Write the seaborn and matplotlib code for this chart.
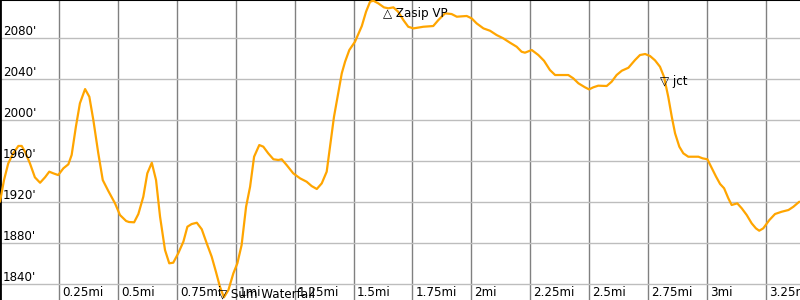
import matplotlib
matplotlib.use("Agg")
import matplotlib.pyplot as plt
import matplotlib.transforms as mtrans
import seaborn as sns
import pandas as pd

# distance along trail (miles)
distance_mi = [
    0.000, 0.017, 0.035, 0.056, 0.078, 0.092, 0.106, 0.127, 0.148, 0.170,
    0.191, 0.209, 0.226, 0.247, 0.269, 0.290, 0.304, 0.322, 0.339, 0.361,
    0.379, 0.396, 0.417, 0.436, 0.459, 0.488, 0.509, 0.535, 0.547, 0.569,
    0.587, 0.608, 0.625, 0.644, 0.662, 0.679, 0.700, 0.718, 0.735, 0.756,
    0.778, 0.795, 0.813, 0.835, 0.856, 0.877, 0.898, 0.916, 0.933, 0.950,
    0.969, 0.990, 1.007, 1.025, 1.044, 1.061, 1.078, 1.100, 1.117, 1.138,
    1.160, 1.181, 1.195, 1.216, 1.244, 1.273, 1.301, 1.322, 1.344, 1.365,
    1.386, 1.400, 1.417, 1.435, 1.450, 1.464, 1.482, 1.506, 1.535, 1.553,
    1.570, 1.584, 1.605, 1.629, 1.647, 1.669, 1.689, 1.711, 1.732, 1.754,
    1.796, 1.838, 1.860, 1.888, 1.916, 1.938, 1.980, 2.001, 2.022, 2.051,
    2.079, 2.107, 2.135, 2.164, 2.192, 2.213, 2.227, 2.256, 2.284, 2.308,
    2.333, 2.355, 2.383, 2.411, 2.432, 2.454, 2.482, 2.499, 2.517, 2.538,
    2.574, 2.595, 2.616, 2.638, 2.666, 2.694, 2.715, 2.737, 2.758, 2.779,
    2.800, 2.817, 2.835, 2.850, 2.864, 2.882, 2.899, 2.920, 2.963, 2.981,
    3.001, 3.020, 3.038, 3.055, 3.072, 3.090, 3.104, 3.128, 3.147, 3.168,
    3.189, 3.207, 3.221, 3.238, 3.264, 3.288, 3.316, 3.345, 3.366, 3.391,
]

# elevation (feet)
elevation_ft = [
    1920.6, 1941.7, 1958.0, 1967.8, 1975.0, 1975.0, 1969.4, 1958.0, 1944.4, 1939.1,
    1944.4, 1949.9, 1948.3, 1946.6, 1953.2, 1957.1, 1966.2, 1993.8, 2016.6, 2030.5,
    2023.0, 2000.3, 1967.8, 1941.7, 1931.3, 1919.0, 1907.6, 1901.8, 1900.8, 1900.5,
    1908.6, 1925.5, 1948.3, 1958.6, 1941.7, 1906.0, 1873.5, 1860.5, 1861.1, 1870.2,
    1881.6, 1896.2, 1898.8, 1900.1, 1893.7, 1880.0, 1867.0, 1852.3, 1837.7, 1827.3,
    1834.4, 1850.7, 1860.5, 1878.3, 1915.7, 1935.2, 1964.5, 1975.9, 1974.3, 1967.8,
    1962.0, 1961.3, 1962.0, 1956.4, 1948.3, 1943.4, 1940.1, 1935.9, 1933.0, 1938.5,
    1949.9, 1974.3, 2003.5, 2026.3, 2045.9, 2057.2, 2068.6, 2076.7, 2092.0, 2106.0,
    2115.7, 2116.7, 2114.1, 2110.2, 2109.3, 2110.2, 2106.0, 2097.9, 2091.3, 2089.7,
    2091.3, 2092.0, 2097.9, 2104.4, 2103.7, 2101.1, 2101.8, 2099.5, 2094.6, 2089.7,
    2087.4, 2083.2, 2080.0, 2075.7, 2071.8, 2066.9, 2066.0, 2068.6, 2063.7, 2058.1,
    2049.1, 2044.2, 2044.2, 2044.2, 2041.0, 2036.1, 2032.2, 2030.2, 2032.2, 2033.8,
    2033.5, 2037.7, 2044.2, 2048.4, 2051.3, 2058.8, 2063.7, 2064.7, 2062.7, 2058.5,
    2052.3, 2042.5, 2023.0, 2003.5, 1987.3, 1974.3, 1967.8, 1964.5, 1964.5, 1962.9,
    1962.0, 1953.2, 1945.0, 1937.9, 1933.7, 1923.9, 1917.4, 1919.0, 1914.1, 1907.6,
    1899.5, 1894.6, 1892.3, 1894.6, 1902.7, 1908.6, 1910.8, 1912.5, 1915.7, 1920.6,
]

# waypoints
wp_names = ["Sum Waterfall", "Zasip VP", "jct"]
wp_symbols = ["\u25bd", "\u25b3", "\u25bd"]
wp_distance = [0.948, 1.649, 2.822]
wp_elevation = [1830.5, 2104.2, 2038.3]

# axis ticks
x_ticks = [0.25, 0.5, 0.75, 1.0, 1.25, 1.5, 1.75, 2.0, 2.25, 2.5, 2.75, 3.0, 3.25]
x_tick_labels = ["0.25mi", "0.5mi", "0.75mi", "1mi", "1.25mi", "1.5mi", "1.75mi",
                 "2mi", "2.25mi", "2.5mi", "2.75mi", "3mi", "3.25mi"]
y_ticks = [1840, 1880, 1920, 1960, 2000, 2040, 2080]
y_tick_labels = ["1840'", "1880'", "1920'", "1960'", "2000'", "2040'", "2080'"]

sns.set_style("white")
plt.rcParams["font.family"] = ["DejaVu Sans"]

df = pd.DataFrame({"distance": distance_mi, "elevation": elevation_ft})

fig = plt.figure(figsize=(8, 3), dpi=100)
ax = fig.add_axes([0, 0, 1, 1])

ax.set_xlim(0, 3.394)
ax.set_ylim(1824.7, 2117.4)

for xt in x_ticks:
    ax.axvline(xt, color="#808080", lw=1.0, zorder=1)
for yt in y_ticks:
    ax.axhline(yt, color="#bdbdbd", lw=1.0, zorder=1)

sns.lineplot(data=df, x="distance", y="elevation", ax=ax, color="#FFA500",
             linewidth=1.6, zorder=3, sort=False, estimator=None)

ax.set_xticks([])
ax.set_yticks([])
ax.set_xlabel("")
ax.set_ylabel("")

fs = 8.6
# y tick labels: inside left, above gridline
ytr = mtrans.blended_transform_factory(ax.transAxes, ax.transData) + \
    mtrans.ScaledTranslation(3 / 100, 3 / 100, fig.dpi_scale_trans)
for yt, lab in zip(y_ticks, y_tick_labels):
    ax.text(0, yt, lab, transform=ytr, ha="left", va="baseline", fontsize=fs,
            color="black", zorder=4)

# x tick labels: inside bottom, right of gridline
xtr = mtrans.blended_transform_factory(ax.transData, ax.transAxes) + \
    mtrans.ScaledTranslation(3 / 100, 4 / 100, fig.dpi_scale_trans)
for xt, lab in zip(x_ticks, x_tick_labels):
    ax.text(xt, 0, lab, transform=xtr, ha="left", va="baseline", fontsize=fs,
            color="black", zorder=4)

# waypoints
wtr = ax.transData + mtrans.ScaledTranslation(-5.5 / 100, 0, fig.dpi_scale_trans)
for name, sym, d, e in zip(wp_names, wp_symbols, wp_distance, wp_elevation):
    ax.text(d, e, f"{sym} {name}", transform=wtr, ha="left", va="center",
            fontsize=fs, color="black", zorder=5)

for side in ["bottom", "right"]:
    ax.spines[side].set_visible(False)
ax.spines["top"].set_color("black")
ax.spines["top"].set_linewidth(1.5)
ax.spines["left"].set_color("black")
ax.spines["left"].set_linewidth(2.0)

fig.savefig("out.png", dpi=100)
